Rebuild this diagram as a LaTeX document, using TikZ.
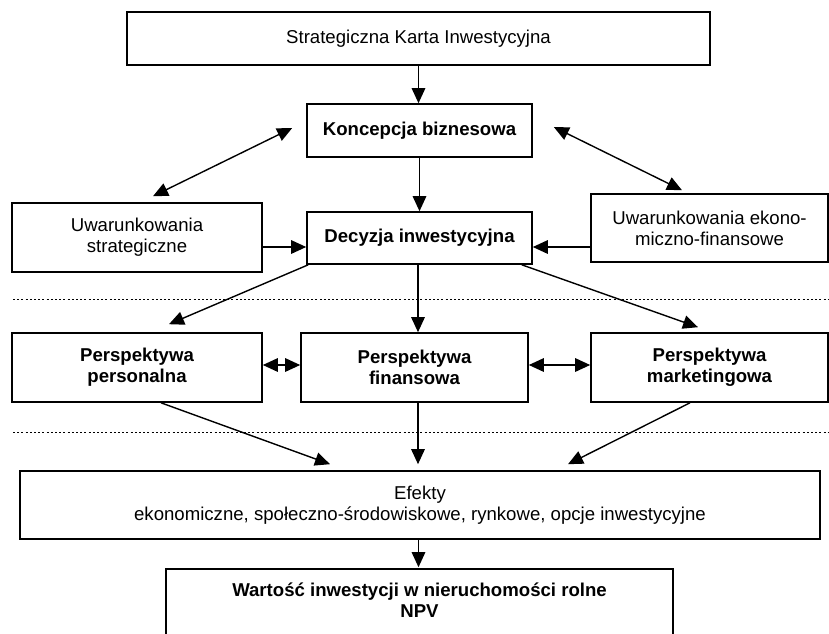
\documentclass[tikz,border=0pt]{standalone}
\usepackage{fontspec}
\setmainfont{Liberation Sans}
\usetikzlibrary{arrows.meta,calc}
\begin{document}
\begin{tikzpicture}[x=1pt,y=-1pt,
 box/.style={draw,line width=1.6pt,inner sep=0pt,align=center,font=\fontsize{18.6}{21}\selectfont},
 bbox/.style={box,font=\fontsize{18.6}{21}\selectfont\bfseries},
 arr/.style={line width=1.4pt,-{Triangle[length=15pt,width=13.5pt]}},
 darr/.style={line width=1.4pt,{Triangle[length=15pt,width=13.5pt]}-{Triangle[length=15pt,width=13.5pt]}},
 sep/.style={line width=1pt,dash pattern=on 2pt off 2.2pt}]
\useasboundingbox (0,0) rectangle (829,633);
\clip (0,0) rectangle (829,633);
% boxes
\node[box,minimum width=583pt,minimum height=53pt] (ski) at (418.5,38.5) {Strategiczna Karta Inwestycyjna};
\node[bbox,minimum width=225pt,minimum height=53pt] (konc) at (419.5,130.5) {Koncepcja biznesowa};
\node[bbox,minimum width=225pt,minimum height=52pt] (dec) at (419.5,238) {Decyzja inwestycyjna};
\node[box,minimum width=250pt,minimum height=69pt] (uws) at (137,237.5) {Uwarunkowania\\strategiczne};
\node[box,minimum width=237pt,minimum height=68pt] (uwe) at (709.5,228) {Uwarunkowania ekono-\\miczno-finansowe};
\node[bbox,minimum width=250pt,minimum height=69pt] (pp) at (137,367.5) {Perspektywa\\personalna};
\node[bbox,minimum width=227pt,minimum height=69pt] (pf) at (414.5,367.5) {Perspektywa\\finansowa};
\node[bbox,minimum width=237pt,minimum height=69pt] (pm) at (709.5,367.5) {Perspektywa\\marketingowa};
\node[box,minimum width=800pt,minimum height=68pt] (ef) at (420,505) {Efekty\\ekonomiczne, społeczno-środowiskowe, rynkowe, opcje inwestycyjne};
\node[bbox,draw=none,minimum width=505pt,minimum height=60pt] (wart) at (419.5,600) {Wartość inwestycji w nieruchomości rolne\\NPV};
\draw[line width=1.6pt] ([yshift=-20pt]wart.south west) -- (wart.north west) -- (wart.north east) -- ([yshift=-20pt]wart.south east);
% separators
\draw[sep] (13,299) -- (829,299);
\draw[sep] (13,432) -- (829,432);
% connectors
\draw[arr] (ski.south) -- (ski.south |- konc.north);
\draw[arr] (konc.south) -- (konc.south |- dec.north);
\draw[darr] ([xshift=-14pt,yshift=2.5pt]konc.west) -- ([xshift=16pt,yshift=6pt]uws.north);
\draw[darr] ([xshift=21pt,yshift=3.5pt]konc.east) -- ([xshift=-27.5pt,yshift=3pt]uwe.north);
\draw[arr] ([yshift=-9.5pt]uws.east) -- ([yshift=-9pt]dec.west);
\draw[arr] ([yshift=-19pt]uwe.west) -- ([yshift=-9pt]dec.east);
\draw[arr] ([xshift=2pt]dec.south west) -- ([xshift=32pt,yshift=8pt]pp.north);
\draw[arr] ([xshift=-1.5pt]dec.south) -- ([xshift=-1.5pt]dec.south |- pf.north);
\draw[arr] ([xshift=-11pt]dec.south east) -- ([xshift=-11.5pt,yshift=5pt]pm.north);
\draw[darr] ([yshift=2.5pt]pp.east) -- ([yshift=2.5pt]pf.west);
\draw[darr] ([yshift=2.5pt]pf.east) -- ([yshift=2.5pt]pm.west);
\draw[arr] ([xshift=24pt]pp.south) -- ([xshift=-90pt,yshift=6pt]ef.north);
\draw[arr] ([xshift=3.5pt]pf.south) -- ([xshift=-2pt,yshift=6pt]ef.north);
\draw[arr] ([xshift=-19.5pt]pm.south) -- ([xshift=148pt,yshift=6pt]ef.north);
\draw[arr] ([xshift=-1.5pt]ef.south) -- ([xshift=-1.5pt,yshift=2pt]ef.south |- wart.north);
\end{tikzpicture}
\end{document}
